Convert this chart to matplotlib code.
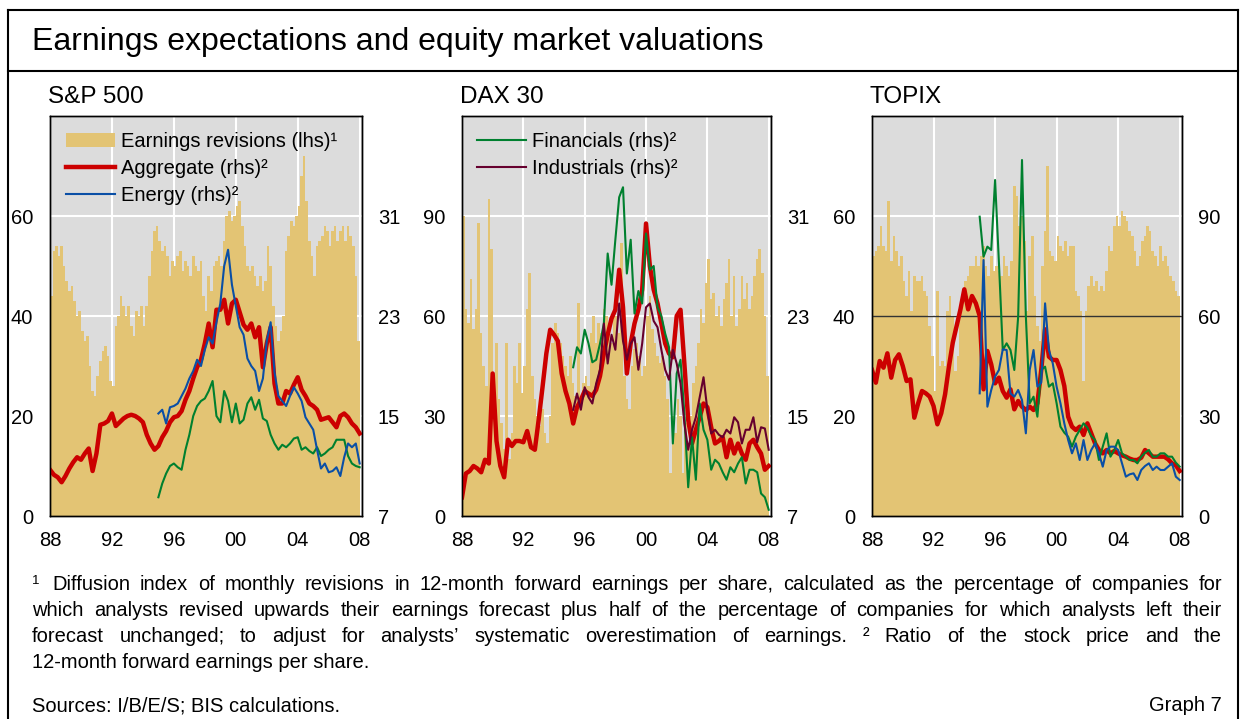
import numpy as np
import matplotlib.pyplot as plt
from matplotlib import font_manager
from matplotlib.lines import Line2D
from matplotlib.patches import Patch

plt.rcParams['font.family'] = ['Liberation Sans', 'DejaVu Sans']

W, H = 1241, 719

# x positions: bars every two months, lines every quarter
years_bar = 1988 + np.arange(120) / 6
years_q = 1988 + np.arange(81) * 0.25
years_sec = 1995 + np.arange(53) * 0.25      # sector series from 1995
years_sec_dax = 1995.25 + np.arange(52) * 0.25

# ---------------- S&P 500 ----------------
sp_rev = [44, 53, 54, 52, 54, 50,  47, 45, 46, 43, 40, 41,
          37, 35, 36, 30, 25, 24,  28, 31, 33, 34, 32, 27,
          26, 38, 40, 44, 42, 40,  42, 38, 36, 41, 40, 42,
          38, 42, 48, 53, 57, 58,  55, 53, 54, 52, 48, 51,
          50, 52, 53, 49, 51, 50,  48, 52, 50, 49, 51, 44,
          41, 48, 45, 50, 51, 52,  50, 55, 60, 61, 59, 60,
          62, 63, 58, 54, 50, 49,  50, 48, 46, 48, 45, 47,
          54, 50, 42, 38, 35, 37,  40, 53, 56, 59, 58, 60,
          62, 68, 72, 63, 55, 52,  48, 54, 55, 56, 58, 57,
          54, 57, 58, 55, 57, 58,  55, 58, 56, 54, 48, 35]
sp_agg = [10.7, 10.3, 10.1, 9.7,  10.2, 10.8, 11.3, 11.7,  11.5, 12.0, 12.4, 10.6,
          12.0, 14.3, 14.4, 14.6,  15.2, 14.2, 14.5, 14.8,  15.0, 15.1, 15.0, 14.8,
          14.5, 13.5, 12.8, 12.3,  12.6, 13.3, 13.8, 14.5,  14.9, 15.0, 15.4, 16.3,
          17.0, 18.0, 18.9, 19.5,  20.8, 22.4, 20.5, 23.5,  23.5, 24.3, 22.4, 24.0,
          24.3, 23.3, 22.3, 21.9,  22.4, 21.3, 22.1, 18.9,  20.8, 22.1, 17.6, 16.0,
          16.0, 17.0, 16.8, 17.5,  18.1, 17.1, 16.6, 16.0,  15.8, 15.5, 14.7, 14.8,
          14.9, 14.5, 14.1, 15.0,  15.2, 14.9, 14.4, 14.1,  13.6]
sp_energy = [15.2, 15.5, 14.4, 15.7,  15.8, 16.0, 16.6, 17.2,  18.0, 18.6, 19.5, 19.0,
             20.3, 21.3, 20.8, 22.5,  24.0, 27.0, 28.3, 25.5,  23.8, 22.1, 21.5, 19.6,
             19.0, 18.6, 17.0, 18.0,  21.0, 22.5, 18.5, 16.6,  16.2, 15.8, 16.6, 17.3,
             16.8, 16.2, 14.9, 14.4,  13.9, 12.3, 10.8, 11.2,  10.5, 10.6, 10.9, 10.2,
             11.7, 12.8, 12.5, 12.8,  11.2]
sp_fin = [8.5, 9.6, 10.4, 11.0,  11.2, 10.9, 10.7, 12.3,  13.5, 15.0, 15.8, 16.2,
          16.4, 17.0, 17.8, 15.0,  14.5, 17.0, 16.2, 14.5,  16.0, 14.4, 14.7, 16.0,
          16.5, 15.5, 16.3, 14.8,  14.6, 13.5, 12.8, 12.3,  12.7, 12.5, 12.8, 13.2,
          13.3, 12.3, 12.5, 12.2,  12.0, 12.5, 11.8, 12.0,  12.3, 12.5, 13.1, 13.1,
          13.1, 11.8, 11.2, 11.0,  10.9]

# ---------------- DAX 30 ----------------
dax_rev = [90, 62, 58, 71, 56, 62,  88, 55, 45, 39, 95, 80,
           42, 52, 35, 28, 20, 52,  17, 25, 45, 40, 52, 37,
           45, 62, 73, 42, 35, 30,  27, 32, 25, 22, 30, 52,
           58, 55, 52, 48, 45, 42,  48, 40, 36, 64, 32, 40,
           42, 39, 55, 60, 52, 58,  55, 62, 60, 57, 52, 62,
           60, 55, 82, 42, 35, 32,  45, 50, 52, 48, 42, 45,
           60, 66, 56, 52, 48, 46,  48, 42, 35, 13, 30, 25,
           35, 30, 13, 28, 22, 30,  40, 45, 52, 62, 58, 70,
           77, 65, 67, 60, 63, 57,  65, 70, 77, 60, 72, 57,
           62, 72, 65, 70, 62, 66,  72, 77, 80, 73, 60, 42]
dax_agg = [8.5, 10.4, 10.6, 11.0,  10.8, 10.5, 11.5, 11.2,  18.4, 13.0, 11.0, 10.1,
           13.1, 12.6, 13.0, 13.0,  12.9, 13.8, 12.5, 12.3,  14.7, 17.3, 20.0, 21.9,
           21.5, 21.0, 18.4, 17.0,  16.0, 14.4, 15.7, 16.3,  17.0, 16.8, 16.6, 17.1,
           18.2, 20.0, 21.5, 22.8,  23.5, 26.7, 23.7, 18.4,  20.8, 22.4, 23.5, 25.1,
           30.4, 27.0, 25.1, 24.0,  22.4, 20.8, 20.0, 19.7,  23.0, 23.5, 19.2, 14.7,
           12.8, 13.9, 14.9, 16.0,  15.7, 14.1, 12.8, 13.0,  13.3, 11.7, 13.1, 12.0,
           12.8, 12.0, 11.5, 12.8,  13.1, 12.5, 12.0, 10.7,  11.0]
dax_fin = [18.9, 20.5, 20.0,  21.9, 20.8, 19.3, 19.5,  20.8, 22.4, 28.0, 25.5,
           29.1, 32.5, 33.3, 26.4,  29.1, 23.2, 25.0, 24.0,  29.6, 26.7, 27.0, 23.7,
           23.0, 21.6, 20.5, 12.8,  18.4, 19.5, 15.2, 9.3,  13.3, 9.9, 16.0, 13.9,
           13.1, 10.7, 11.5, 11.2,  10.5, 9.9, 10.9, 10.5,  11.2, 11.7, 9.6, 10.7,
           10.7, 10.5, 8.8, 8.5,  7.5]
dax_ind = [15.5, 16.8, 15.5,  17.3, 16.5, 16.0, 17.6,  18.7, 22.4, 19.2, 21.5,
           20.3, 24.0, 21.0, 19.5,  20.8, 21.3, 18.7, 20.8,  23.7, 24.0, 22.6, 22.1,
           20.3, 18.7, 17.9, 20.3,  19.2, 17.6, 14.4, 12.3,  13.9, 14.9, 16.5, 18.1,
           15.5, 13.6, 13.9, 13.5,  13.3, 13.9, 13.6, 14.9,  14.5, 12.8, 13.9, 13.9,
           14.9, 12.9, 14.1, 14.0,  12.3]

# ---------------- TOPIX ----------------
tpx_rev = [52, 53, 54, 58, 54, 53,  63, 51, 56, 53, 50, 52,
           47, 44, 49, 41, 48, 47,  47, 48, 45, 44, 38, 32,
           25, 45, 30, 31, 30, 41,  44, 40, 29, 32, 41, 45,
           47, 48, 50, 50, 52, 50,  52, 54, 50, 48, 52, 49,
           50, 49, 48, 52, 50, 48,  51, 66, 64, 58, 60, 55,
           41, 52, 56, 44, 38, 35,  50, 57, 70, 53, 52, 51,
           56, 54, 53, 55, 52, 54,  54, 45, 44, 41, 27, 41,
           46, 48, 46, 47, 45, 46,  45, 49, 54, 53, 58, 60,
           58, 61, 60, 59, 57, 56,  53, 50, 52, 55, 56, 58,
           57, 53, 52, 50, 54, 51,  52, 50, 48, 47, 45, 44]
tpx_agg = [43.8, 40.0, 46.5, 44.5,  48.8, 41.5, 46.8, 48.5,  45.0, 40.5, 41.0, 29.5,
           33.8, 37.5, 36.8, 35.8,  33.0, 27.5, 30.8, 36.5,  44.8, 52.0, 57.0, 62.0,
           68.0, 62.0, 66.0, 63.8,  60.0, 38.0, 49.5, 45.5,  39.8, 41.5, 37.5, 35.5,
           38.0, 32.0, 34.5, 32.8,  31.8, 32.8, 31.8, 33.8,  43.8, 56.0, 47.8, 46.8,
           46.8, 43.8, 39.0, 29.8,  26.8, 25.8, 26.8, 24.3,  27.8, 24.8, 21.8, 19.8,
           18.8, 19.8, 18.8, 19.5,  18.8, 18.2, 17.8, 17.2,  16.8, 16.8, 17.5, 19.8,
           18.8, 17.8, 17.8, 17.8,  17.8, 17.0, 15.8, 15.2,  13.5]
tpx_energy = [36.8, 76.8, 32.8, 37.8,  41.8, 43.8, 50.0, 49.8,  36.8, 35.8, 37.8, 34.8,
              24.8, 43.8, 49.8, 38.8,  40.0, 63.8, 49.8, 45.8,  38.8, 33.8, 27.8, 22.8,
              18.8, 21.8, 16.8, 22.8,  16.8, 19.8, 21.8, 18.8,  14.8, 19.8, 20.8, 20.8,
              19.8, 15.8, 11.8, 12.5,  12.8, 10.8, 13.8, 15.0,  15.8, 13.8, 14.8, 13.8,
              13.8, 14.8, 15.8, 11.8,  10.8]
tpx_fin = [89.8, 77.8, 80.8, 79.8,  100.8, 76.0, 49.8, 51.8,  49.8, 43.8, 59.8, 106.8,
           60.0, 33.8, 35.8, 29.8,  43.8, 44.8, 38.8, 39.8,  33.8, 26.8, 25.0, 23.8,
           20.8, 23.8, 25.8, 27.8,  26.5, 24.0, 22.8, 16.8,  20.8, 24.8, 17.8, 19.8,
           22.8, 18.8, 17.8, 16.8,  16.8, 15.8, 17.8, 19.0,  19.8, 17.8, 17.8, 18.8,
           18.8, 17.8, 17.8, 16.0,  14.8]

BAR = '#E3C474'
BG = '#DCDCDC'
RED = '#CC0000'
BLUE = '#0A4FA6'
GREEN = '#00802F'
MAROON = '#66002E'

fig = plt.figure(figsize=(W / 100, H / 100), dpi=100)


def fx(x):
    return x / W


def fy(y):
    return 1 - y / H


def panel(left, right, title, rev, lhs_max, lhs_ticks, rhs_lim, rhs_ticks, lines):
    ax = fig.add_axes([fx(left), fy(516), (right - left) / W, 400 / H])
    ax.set_facecolor(BG)
    ax.bar(years_bar, rev, width=1 / 6, align='edge', color=BAR, linewidth=0, zorder=2)
    ax.set_xlim(1988, 2008.15)
    ax.set_ylim(0, lhs_max)
    ax.set_yticks(lhs_ticks)
    ax.set_xticks(range(1988, 2009, 4))
    ax.set_xticklabels(['88', '92', '96', '00', '04', '08'])
    ax.grid(color='white', linewidth=1.5)
    ax.set_axisbelow(True)
    ax.tick_params(length=0, labelsize=14.5)
    ax.tick_params(axis='y', pad=12)
    ax.tick_params(axis='x', pad=11)
    ax2 = ax.twinx()
    ax2.set_ylim(*rhs_lim)
    ax2.set_yticks(rhs_ticks)
    ax2.tick_params(length=0, labelsize=14.5, pad=11.5)
    for t, v, c, lw in lines:
        ax2.plot(t, v, color=c, linewidth=lw, solid_joinstyle='round')
    for a in (ax, ax2):
        for s in a.spines.values():
            s.set_color('black')
            s.set_linewidth(1)
    fig.text(fx(left - 2), fy(97), title, fontsize=17.5, va='center')
    return ax, ax2


ax, ax2 = panel(50, 362, 'S&P 500', sp_rev, 80, [0, 20, 40, 60], (7, 39), [7, 15, 23, 31],
                [(years_q, sp_agg, RED, 3.2), (years_sec, sp_fin, GREEN, 1.5),
                 (years_sec, sp_energy, BLUE, 1.5)])
ax2.legend([Patch(facecolor=BAR, edgecolor='none'),
            Line2D([], [], color=RED, lw=3.2), Line2D([], [], color=BLUE, lw=1.5)],
           ['Earnings revisions (lhs)¹', 'Aggregate (rhs)²', 'Energy (rhs)²'],
           loc='upper left', bbox_to_anchor=(0.052, 0.96), frameon=False, fontsize=14.5,
           handlelength=2.4, handleheight=0.75, handletextpad=0.3, labelspacing=0.4,
           borderpad=0, borderaxespad=0)

ax, ax2 = panel(462, 771, 'DAX 30', dax_rev, 120, [0, 30, 60, 90], (7, 39), [7, 15, 23, 31],
                [(years_q, dax_agg, RED, 3.2), (years_sec_dax, dax_fin, GREEN, 1.5),
                 (years_sec_dax, dax_ind, MAROON, 1.5)])
ax2.legend([Line2D([], [], color=GREEN, lw=1.5), Line2D([], [], color=MAROON, lw=1.5)],
           ['Financials (rhs)²', 'Industrials (rhs)²'],
           loc='upper left', bbox_to_anchor=(0.05, 0.96), frameon=False, fontsize=14.5,
           handlelength=2.4, handletextpad=0.3, labelspacing=0.4,
           borderpad=0, borderaxespad=0)

ax, ax2 = panel(872, 1182, 'TOPIX', tpx_rev, 80, [0, 20, 40, 60], (0, 120), [0, 30, 60, 90],
                [(years_q, tpx_agg, RED, 3.2), (years_sec, tpx_fin, GREEN, 1.5),
                 (years_sec, tpx_energy, BLUE, 1.5)])
ax.axhline(40, color='#333333', linewidth=1, zorder=3)

# outer frame and title
for xs, ys in [([8, 8], [10, 719]), ([8, 1238], [10, 10]), ([1238, 1238], [10, 719]),
               ([8, 1238], [71, 71])]:
    fig.add_artist(Line2D([fx(x) for x in xs], [fy(y) for y in ys], color='black', lw=1.5))
fig.text(fx(32), fy(42), 'Earnings expectations and equity market valuations',
         fontsize=23, va='center')

# footnotes, justified
names = {f.name for f in font_manager.fontManager.ttflist}
if 'Liberation Sans Narrow' in names:
    NOTE_FONT, NOTE_SIZE = 'Liberation Sans Narrow', 14.5
else:
    NOTE_FONT, NOTE_SIZE = 'Liberation Sans', 14.5
renderer = fig.canvas.get_renderer()


def justify(words, x0, x1, base):
    items = []
    for w in words:
        t = fig.text(0, 0, w, fontsize=NOTE_SIZE, family=NOTE_FONT, va='baseline')
        items.append((t, t.get_window_extent(renderer).width))
    gap = (x1 - x0 - sum(wd for _, wd in items)) / (len(items) - 1)
    x = x0
    for t, wd in items:
        t.set_position((fx(x), fy(base)))
        x += wd + gap


fig.text(fx(32), fy(584), '1', fontsize=9.5, family=NOTE_FONT, va='baseline')
justify('Diffusion index of monthly revisions in 12-month forward earnings per share, '
        'calculated as the percentage of companies for'.split(), 52, 1222, 590)
justify('which analysts revised upwards their earnings forecast plus half of the percentage '
        'of companies for which analysts left their'.split(), 32, 1222, 616)
justify('forecast unchanged; to adjust for analysts’ systematic overestimation of earnings. '
        '²  Ratio of the stock price and the'.split(), 32, 1222, 642)
fig.text(fx(32), fy(668), '12-month forward earnings per share.', fontsize=NOTE_SIZE,
         family=NOTE_FONT, va='baseline')
fig.text(fx(32), fy(711), 'Sources: I/B/E/S; BIS calculations.', fontsize=NOTE_SIZE,
         family=NOTE_FONT, va='baseline')
fig.text(fx(1222), fy(711), 'Graph 7', fontsize=NOTE_SIZE, family=NOTE_FONT,
         va='baseline', ha='right')

fig.savefig('out.png', dpi=100)
